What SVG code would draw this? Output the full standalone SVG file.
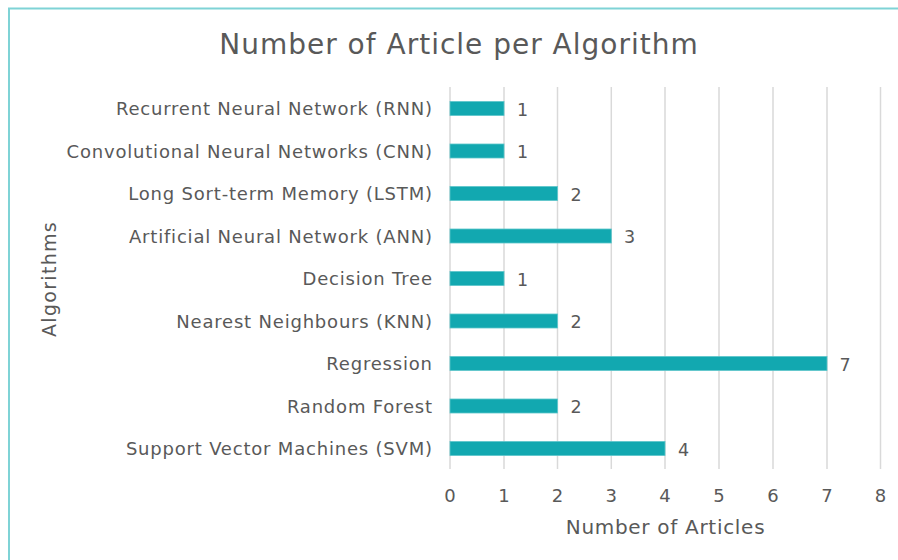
<svg xmlns="http://www.w3.org/2000/svg" width="898" height="560" viewBox="0 0 898 560">
<style>
text{font-family:"DejaVu Sans","Verdana",sans-serif;fill:#595959}
.cat{font-size:18px;text-anchor:end;letter-spacing:0.8px}
.val{font-size:17.5px}
.tick{font-size:18px;text-anchor:middle}
.grid{stroke:#d9d9d9;stroke-width:1.5}
.bar{fill:#12a8b0;stroke:#5cc5cb;stroke-width:0.8}
</style>
<rect width="898" height="560" fill="#ffffff"/>
<path d="M9 560 V8.5 H898" fill="none" stroke="#7fd3d6" stroke-width="2"/>
<text x="459" y="53.5" font-size="28" letter-spacing="1" text-anchor="middle">Number of Article per Algorithm</text>
<g id="grid">
<line class="grid" x1="450" y1="87" x2="450" y2="469"/>
<line class="grid" x1="504" y1="87" x2="504" y2="469"/>
<line class="grid" x1="557.5" y1="87" x2="557.5" y2="469"/>
<line class="grid" x1="611.3" y1="87" x2="611.3" y2="469"/>
<line class="grid" x1="665" y1="87" x2="665" y2="469"/>
<line class="grid" x1="719" y1="87" x2="719" y2="469"/>
<line class="grid" x1="773" y1="87" x2="773" y2="469"/>
<line class="grid" x1="827" y1="87" x2="827" y2="469"/>
<line class="grid" x1="880.5" y1="87" x2="880.5" y2="469"/>
</g>
<g id="bars">
<rect class="bar" x="450" y="101.5" width="54" height="14"/>
<rect class="bar" x="450" y="144" width="54" height="14"/>
<rect class="bar" x="450" y="186.5" width="107.5" height="14"/>
<rect class="bar" x="450" y="229" width="161.3" height="14"/>
<rect class="bar" x="450" y="271.5" width="54" height="14"/>
<rect class="bar" x="450" y="314" width="107.5" height="14"/>
<rect class="bar" x="450" y="356.5" width="377" height="14"/>
<rect class="bar" x="450" y="399" width="107.5" height="14"/>
<rect class="bar" x="450" y="441.5" width="215" height="14"/>
</g>
<g id="categories">
<text class="cat" x="432.8" y="115">Recurrent Neural Network (RNN)</text>
<text class="cat" x="432.8" y="157.5">Convolutional Neural Networks (CNN)</text>
<text class="cat" x="432.8" y="200">Long Sort-term Memory (LSTM)</text>
<text class="cat" x="432.8" y="242.5">Artificial Neural Network (ANN)</text>
<text class="cat" x="432.8" y="285">Decision Tree</text>
<text class="cat" x="432.8" y="327.5">Nearest Neighbours (KNN)</text>
<text class="cat" x="432.8" y="370">Regression</text>
<text class="cat" x="432.8" y="412.5">Random Forest</text>
<text class="cat" x="432.8" y="455">Support Vector Machines (SVM)</text>
</g>
<g id="values">
<text class="val" x="517" y="115.5">1</text>
<text class="val" x="517" y="158">1</text>
<text class="val" x="570.5" y="200.5">2</text>
<text class="val" x="624" y="243">3</text>
<text class="val" x="517" y="285.5">1</text>
<text class="val" x="570.5" y="328">2</text>
<text class="val" x="839.5" y="370.5">7</text>
<text class="val" x="570.5" y="413">2</text>
<text class="val" x="678" y="455.5">4</text>
</g>
<g id="ticks">
<text class="tick" x="450" y="502">0</text>
<text class="tick" x="504" y="502">1</text>
<text class="tick" x="557.5" y="502">2</text>
<text class="tick" x="611.3" y="502">3</text>
<text class="tick" x="665" y="502">4</text>
<text class="tick" x="719" y="502">5</text>
<text class="tick" x="773" y="502">6</text>
<text class="tick" x="827" y="502">7</text>
<text class="tick" x="880.5" y="502">8</text>
</g>
<text x="665.5" y="534" font-size="20" letter-spacing="0.7" text-anchor="middle">Number of Articles</text>
<text transform="translate(56 279) rotate(-90)" font-size="19" letter-spacing="1.3" text-anchor="middle">Algorithms</text>
</svg>
